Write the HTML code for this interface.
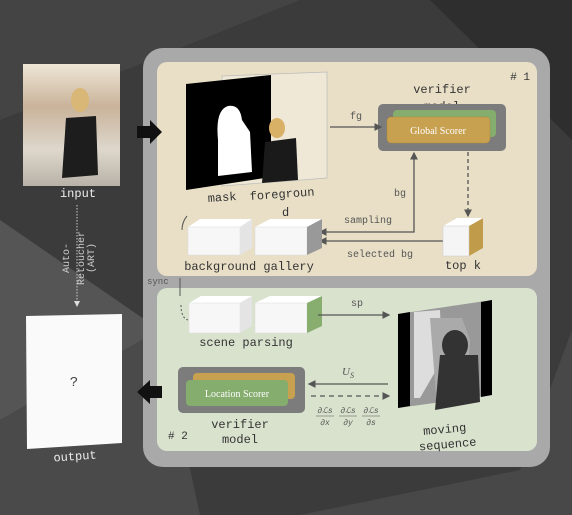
<!DOCTYPE html>
<html><head><style>
html,body{margin:0;padding:0;background:#3a3a3a;}
svg{display:block}
text{font-family:"Liberation Mono",monospace;}
</style></head><body>
<svg width="572" height="515" viewBox="0 0 572 515" xmlns="http://www.w3.org/2000/svg">
<defs>
<marker id="ah" markerWidth="6" markerHeight="6" refX="5" refY="3" orient="auto-start-reverse"><path d="M0,0 L6,3 L0,6z" fill="#555"/></marker>
<marker id="ahw" markerWidth="6" markerHeight="6" refX="5" refY="3" orient="auto"><path d="M0,0 L6,3 L0,6z" fill="#ddd"/></marker>
<linearGradient id="ph" x1="0" y1="0" x2="0" y2="1"><stop offset="0" stop-color="#eee6d6"/><stop offset="0.35" stop-color="#c9b39a"/><stop offset="0.7" stop-color="#ddd7cc"/><stop offset="1" stop-color="#b9b2a8"/></linearGradient>
</defs>
<rect width="572" height="515" fill="#3b3b3b"/>
<polygon points="0,0 300,0 0,120" fill="#444"/>
<polygon points="0,220 160,330 0,420" fill="#555"/>
<polygon points="0,420 160,330 200,515 0,515" fill="#4a4a4a"/>
<polygon points="430,0 572,0 572,140" fill="#2e2e2e"/>
<polygon points="520,470 572,330 572,515 300,515" fill="#484848"/>
<rect x="143" y="48" width="407" height="419" rx="20" fill="#a9a9a9"/>
<rect x="157" y="62" width="380" height="214" rx="10" fill="#e8dfc6"/>
<rect x="157" y="288" width="380" height="163" rx="10" fill="#d8e2cd"/>
<rect x="23" y="64" width="97" height="122" fill="url(#ph)"/>
<ellipse cx="80" cy="100" rx="9" ry="12" fill="#d9b776"/>
<path d="M66,118 L96,116 L98,175 L62,178z" fill="#1d1d1d"/>
<text x="78" y="197" font-size="12" fill="#eee" text-anchor="middle">input</text>
<line x1="77" y1="205" x2="77" y2="306" stroke="#ccc" stroke-dasharray="1.5,1.5" marker-end="url(#ahw)"/>
<text transform="translate(69,258) rotate(-90)" font-size="10" fill="#ccc" text-anchor="middle">Auto-</text>
<text transform="translate(84,258) rotate(-90)" font-size="10" fill="#ccc" text-anchor="middle">Retoucher</text>
<text transform="translate(94,258) rotate(-90)" font-size="10" fill="#ccc" text-anchor="middle">(ART)</text>
<polygon points="26,316 122,314 122,443 27,449" fill="#fafafa"/>
<text x="74" y="386" font-size="14" fill="#444" text-anchor="middle">?</text>
<text x="75" y="460" font-size="12" fill="#eee" text-anchor="middle" transform="rotate(-4 75 456)">output</text>
<polygon points="137,126 150,126 150,120 162,132 150,144 150,138 137,138" fill="#111"/>
<polygon points="162,386 150,386 150,380 137,392 150,404 150,398 162,398" fill="#111"/>
<polygon points="222,76 327,72 327,178 222,186" fill="#efe8d6" stroke="#bbb" stroke-width="0.7"/>
<polygon points="186,84 271,75 271,177 186,190" fill="#000"/>
<path d="M218,140 Q215,110 228,106 Q240,104 242,120 L250,132 L252,172 L218,176z" fill="#fff"/>
<ellipse cx="277" cy="128" rx="8" ry="10" fill="#d8b066"/>
<path d="M265,142 L296,138 L298,180 L262,183z" fill="#1a1a1a"/>
<text x="208" y="202" font-size="12" fill="#333" transform="rotate(-4 208 202)">mask</text>
<text x="250" y="200" font-size="12" fill="#333" transform="rotate(-4 250 200)">foregroun</text>
<text x="282" y="216" font-size="12" fill="#333">d</text>
<text x="442" y="93" font-size="12" fill="#333" text-anchor="middle">verifier</text>
<text x="442" y="110" font-size="12" fill="#333" text-anchor="middle">model</text>
<rect x="378" y="104" width="128" height="47" rx="5" fill="#7c7c7c"/>
<rect x="393" y="110" width="103" height="27" rx="4" fill="#85ad6e"/>
<rect x="387" y="117" width="103" height="26" rx="4" fill="#c8a150" stroke="#b08a3a" stroke-width="0.5"/>
<text x="438" y="134" font-size="10" fill="#fff" text-anchor="middle" style="font-family:'Liberation Serif',serif">Global Scorer</text>
<text x="530" y="80" font-size="11" fill="#333" text-anchor="end"># 1</text>
<line x1="330" y1="127" x2="381" y2="127" stroke="#555" stroke-width="1.3" marker-end="url(#ah)"/>
<text x="356" y="119" font-size="10" fill="#555" text-anchor="middle">fg</text>
<polyline points="414,153 414,232 320,232" fill="none" stroke="#555" stroke-width="1.3" marker-start="url(#ah)" marker-end="url(#ah)"/>
<text x="400" y="196" font-size="10" fill="#555" text-anchor="middle">bg</text>
<text x="368" y="223" font-size="10" fill="#555" text-anchor="middle">sampling</text>
<line x1="468" y1="152" x2="468" y2="216" stroke="#555" stroke-width="1.3" stroke-dasharray="4,3" marker-end="url(#ah)"/>
<line x1="443" y1="241" x2="320" y2="241" stroke="#555" stroke-width="1.3" marker-end="url(#ah)"/>
<text x="380" y="257" font-size="10" fill="#555" text-anchor="middle">selected  bg</text>
<polygon points="469,226 483,218 483,248 469,256" fill="#c09c4a"/>
<polygon points="443,226 469,226 483,218 457,218" fill="#fff"/>
<rect x="443" y="226" width="26" height="30" fill="#f5f5f5" stroke="#ccc" stroke-width="0.5"/>
<text x="463" y="269" font-size="12" fill="#333" text-anchor="middle">top k</text>
<polygon points="188,227 240,227 252,219 200,219" fill="#fff"/>
<rect x="188" y="227" width="52" height="28" fill="#f7f7f7" stroke="#ddd" stroke-width="0.5"/>
<polygon points="240,227 252,219 252,248 240,255" fill="#e4e4e4"/>
<polygon points="255,227 307,227 322,219 270,219" fill="#fff"/>
<rect x="255" y="227" width="52" height="28" fill="#f7f7f7" stroke="#ddd" stroke-width="0.5"/>
<polygon points="307,227 322,219 322,248 307,255" fill="#999"/>
<text x="249" y="270" font-size="12" fill="#333" text-anchor="middle">background gallery</text>
<path d="M187,216 Q182,222 182,230" fill="none" stroke="#555"/>
<text x="147" y="284" font-size="9" fill="#555">sync</text>
<line x1="180" y1="278" x2="180" y2="296" stroke="#555"/>
<path d="M181,305 Q181,318 188,320" fill="none" stroke="#555" stroke-dasharray="2,2"/>
<polygon points="189,303 240,303 252,296 201,296" fill="#fff"/>
<rect x="189" y="303" width="51" height="30" fill="#f7f7f7" stroke="#ddd" stroke-width="0.5"/>
<polygon points="240,303 252,296 252,326 240,333" fill="#e4e4e4"/>
<polygon points="255,303 307,303 322,296 270,296" fill="#fff"/>
<rect x="255" y="303" width="52" height="30" fill="#f7f7f7" stroke="#ddd" stroke-width="0.5"/>
<polygon points="307,303 322,296 322,326 307,333" fill="#87ad6f"/>
<text x="246" y="346" font-size="12" fill="#333" text-anchor="middle">scene parsing</text>
<line x1="318" y1="315" x2="389" y2="315" stroke="#555" stroke-width="1.3" marker-end="url(#ah)"/>
<text x="357" y="306" font-size="10" fill="#555" text-anchor="middle">sp</text>
<polygon points="398,314 492,300 492,395 398,408" fill="#999"/>
<polygon points="398,314 410,312 410,406 398,408" fill="#000"/>
<polygon points="481,302 492,300 492,395 481,397" fill="#000"/>
<path d="M414,312 L440,310 L442,360 L420,398 L414,398z" fill="#ddd"/>
<path d="M430,318 L462,318 L470,340 L466,395 L436,395z" fill="#aaa"/>
<ellipse cx="455" cy="345" rx="13" ry="15" fill="#333"/>
<path d="M440,355 L478,355 L480,402 L435,410z" fill="#333"/>
<text x="445" y="433" font-size="12" fill="#333" text-anchor="middle" transform="rotate(-5 445 433)">moving</text>
<text x="448" y="448" font-size="12" fill="#333" text-anchor="middle" transform="rotate(-5 448 448)">sequence</text>
<rect x="178" y="367" width="127" height="46" rx="5" fill="#7c7c7c"/>
<rect x="193" y="373" width="102" height="26" rx="4" fill="#c8a150"/>
<rect x="186" y="380" width="102" height="26" rx="4" fill="#85ad6e"/>
<text x="237" y="397" font-size="10" fill="#fff" text-anchor="middle" style="font-family:'Liberation Serif',serif">Location Scorer</text>
<text x="240" y="428" font-size="12" fill="#333" text-anchor="middle">verifier</text>
<text x="240" y="443" font-size="12" fill="#333" text-anchor="middle">model</text>
<text x="168" y="439" font-size="11" fill="#333"># 2</text>
<line x1="388" y1="384" x2="309" y2="384" stroke="#555" stroke-width="1.3" marker-end="url(#ah)"/>
<text x="348" y="375" font-size="11" fill="#555" text-anchor="middle" font-style="italic" style="font-family:'Liberation Serif',serif">U<tspan font-size="8" dy="3">S</tspan></text>
<line x1="311" y1="396" x2="389" y2="396" stroke="#555" stroke-width="1.3" stroke-dasharray="5,4" marker-end="url(#ah)"/>
<g font-size="8" fill="#555" text-anchor="middle" style="font-family:'Liberation Serif',serif" font-style="italic">
<text x="325" y="413">∂ℒs</text><line x1="316" y1="416" x2="334" y2="416" stroke="#555" stroke-width="0.6"/><text x="325" y="425">∂x</text>
<text x="348" y="413">∂ℒs</text><line x1="339" y1="416" x2="357" y2="416" stroke="#555" stroke-width="0.6"/><text x="348" y="425">∂y</text>
<text x="371" y="413">∂ℒs</text><line x1="362" y1="416" x2="380" y2="416" stroke="#555" stroke-width="0.6"/><text x="371" y="425">∂s</text>
</g>
</svg>
</body></html>
